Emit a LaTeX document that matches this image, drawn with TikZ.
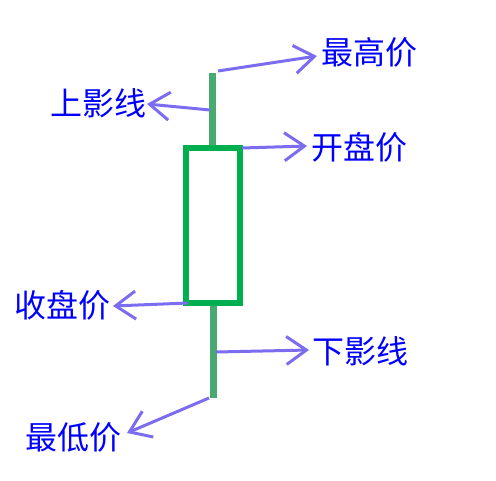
\documentclass[tikz,border=0pt]{standalone}
\usepackage{fontspec}
\newfontfamily\cjk{Noto Sans CJK SC}
\usetikzlibrary{arrows.meta}
\definecolor{wickgreen}{RGB}{72,170,112}
\definecolor{bodygreen}{RGB}{0,176,80}
\definecolor{arrowblue}{RGB}{123,108,240}
\tikzset{
  wick/.style={draw=wickgreen,line width=7pt},
  candle/.style={draw=bodygreen,line width=6pt},
  pointer/.style={draw=arrowblue,line width=3pt,-{Straight Barb[length=20pt,width=28pt,line width=3pt]}},
  label/.style={text=blue,font=\cjk\fontsize{32}{38}\selectfont,inner sep=0pt}
}
\begin{document}
\begin{tikzpicture}[x=1pt,y=-1pt]
\useasboundingbox (0,0) rectangle (496,480);
% wicks and body
\coordinate (uwtop) at (212,73);
\coordinate (uwbot) at (212,148);
\coordinate (lwtop) at (213,303);
\coordinate (lwbot) at (213,398);
\draw[wick] (uwtop) -- (uwbot);
\draw[wick] (lwtop) -- (lwbot);
\node[candle,minimum width=54pt,minimum height=155pt,inner sep=0pt] (body) at (213,225.5) {};
% labels
\node[label,anchor=west] (high) at (321,52) {最高价};
\node[label,anchor=east] (upper) at (147,103) {上影线};
\node[label,anchor=west] (open) at (311,147) {开盘价};
\node[label,anchor=east] (close) at (111,305) {收盘价};
\node[label,anchor=west] (lower) at (312,351) {下影线};
\node[label,anchor=east] (low) at (122,437) {最低价};
% arrow ends
\coordinate (s1) at (218,71);  \coordinate (t1) at (317,56);
\coordinate (s2) at (210,110); \coordinate (t2) at (147,104);
\coordinate (s3) at (242,148); \coordinate (t3) at (307,146);
\coordinate (s4) at (188,303); \coordinate (t4) at (113,306);
\coordinate (s5) at (216,352); \coordinate (t5) at (309,350);
\coordinate (s6) at (209,398); \coordinate (t6) at (127,433);
\draw[pointer] (s1) -- (t1);
\draw[pointer] (s2) -- (t2);
\draw[pointer] (s3) -- (t3);
\draw[pointer] (s4) -- (t4);
\draw[pointer] (s5) -- (t5);
\draw[pointer] (s6) -- (t6);
\end{tikzpicture}
\end{document}
